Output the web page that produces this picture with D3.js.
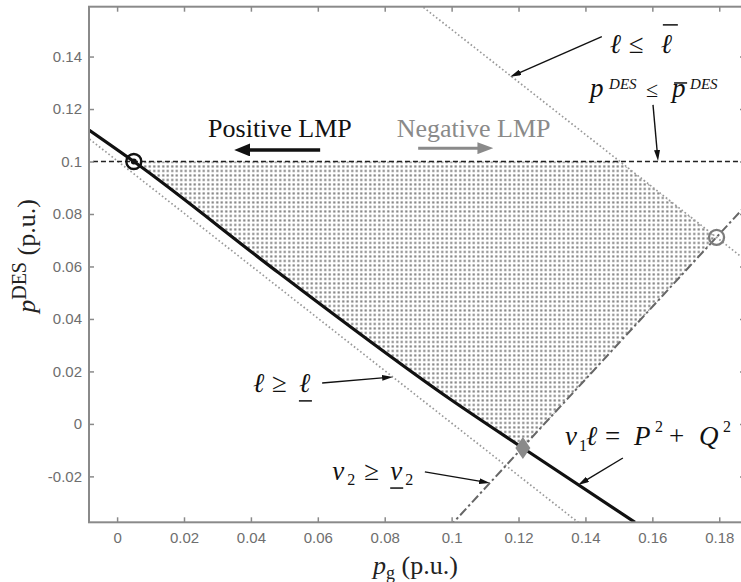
<!DOCTYPE html>
<html>
<head>
<meta charset="utf-8">
<script src="https://cdn.jsdelivr.net/npm/d3@7"></script>
<style>
  html, body { margin: 0; padding: 0; background: #fff; }
  svg { display: block; }
</style>
</head>
<body>
<div id="chart"></div>
<script>
// Feasible operating region of the DES in the (p_g, p^DES) plane

// axis ticks
const xTicks = [0, 0.02, 0.04, 0.06, 0.08, 0.1, 0.12, 0.14, 0.16, 0.18];
const xTickLabels = ["0", "0.02", "0.04", "0.06", "0.08", "0.1", "0.12", "0.14", "0.16", "0.18"];
const yTicks = [-0.02, 0, 0.02, 0.04, 0.06, 0.08, 0.1, 0.12, 0.14];
const yTickLabels = ["-0.02", "0", "0.02", "0.04", "0.06", "0.08", "0.1", "0.12", "0.14"];

// v1·l = P² + Q² (power-flow boundary)
const flowX = [-0.0084, 0.005, 0.0484, 0.0995, 0.1213, 0.1548];
const flowY = [0.1120, 0.1, 0.0575, 0.0095, -0.0092, -0.0375];
// l <= l_max
const lMaxX = [0.085, 0.19];
const lMaxY = [0.1653, 0.0603];
// l >= l_min
const lMinX = [-0.012, 0.14];
const lMinY = [0.1123, -0.0397];
// p^DES <= p^DES_max
const pMaxX = [-0.012, 0.19];
const pMaxY = [0.1, 0.1];
// v2 >= v2_min
const v2X = [0.099, 0.19];
const v2Y = [-0.0397, 0.0861];
// feasible region corners (lower-left side follows the power-flow boundary)
const regionX = [0.005, 0.1503, 0.1792, 0.1213];
const regionY = [0.1, 0.1, 0.0711, -0.0092];
// vertex markers
const posVertex = [0.005, 0.1];
const negVertex = [0.1792, 0.0711];
const flowVertex = [0.1213, -0.0092];

const W = 741, H = 582;
const margin = { top: 6.7, right: -4, bottom: 59.7, left: 89 };
const iw = W - margin.left - margin.right;
const ih = H - margin.top - margin.bottom;

const x = d3.scaleLinear().domain([-0.0084, 0.1877]).range([0, iw]);
const y = d3.scaleLinear().domain([-0.0375, 0.159]).range([ih, 0]);

const svg = d3.select("#chart").append("svg")
  .attr("width", W).attr("height", H);
const defs = svg.append("defs");

defs.append("clipPath").attr("id", "plot-clip")
  .append("rect").attr("width", iw).attr("height", ih);

const pts = (xs, ys) => xs.map((v, i) => [v, ys[i]]);
const line = d3.line().x(d => x(d[0])).y(d => y(d[1]));
const curveLine = d3.line().x(d => x(d[0])).y(d => y(d[1])).curve(d3.curveMonotoneX);

// everything on the upper-right side of the power-flow boundary
const flowPath = curveLine(pts(flowX, flowY));
defs.append("clipPath").attr("id", "above-flow")
  .append("path")
  .attr("d", flowPath +
    `L${iw + 60},${y(flowY[flowY.length - 1])}L${iw + 60},-60L-60,-60L-60,${y(flowY[0])}Z`);

const pat = defs.append("pattern").attr("id", "dots")
  .attr("patternUnits", "userSpaceOnUse")
  .attr("width", 4.5).attr("height", 4.5);
pat.append("rect").attr("x", 1.2).attr("y", 1.2)
  .attr("width", 2.1).attr("height", 2.1).attr("fill", "#7c7c7c");

function arrowMarker(id, color, len, wid) {
  defs.append("marker").attr("id", id)
    .attr("viewBox", `0 0 ${len} ${wid}`)
    .attr("refX", len).attr("refY", wid / 2)
    .attr("markerWidth", len).attr("markerHeight", wid)
    .attr("markerUnits", "userSpaceOnUse")
    .attr("orient", "auto")
    .append("path").attr("d", `M0,0L${len},${wid / 2}L0,${wid}Z`).attr("fill", color);
}
arrowMarker("head-big-black", "#111", 16, 13);
arrowMarker("head-big-gray", "#8a8a8a", 16, 12);
arrowMarker("head-small", "#111", 11, 6);

const g = svg.append("g").attr("transform", `translate(${margin.left},${margin.top})`);
const plot = g.append("g").attr("clip-path", "url(#plot-clip)");

// feasible region (dot fill)
const regionPts = pts(regionX, regionY).concat([[regionX[0], regionY[3]]]);
plot.append("g").attr("clip-path", "url(#above-flow)")
  .append("path")
  .attr("d", line(regionPts) + "Z")
  .attr("fill", "url(#dots)");

// constraint lines
plot.append("path").attr("d", line(pts(lMinX, lMinY)))
  .attr("fill", "none").attr("stroke", "#999").attr("stroke-width", 1.7)
  .attr("stroke-dasharray", "1.6,2.4");
plot.append("path").attr("d", line(pts(lMaxX, lMaxY)))
  .attr("fill", "none").attr("stroke", "#999").attr("stroke-width", 1.7)
  .attr("stroke-dasharray", "1.6,2.4");
plot.append("path").attr("d", line(pts(pMaxX, pMaxY)))
  .attr("fill", "none").attr("stroke", "#222").attr("stroke-width", 1.4)
  .attr("stroke-dasharray", "5,3");
plot.append("path").attr("d", line(pts(v2X, v2Y)))
  .attr("fill", "none").attr("stroke", "#666").attr("stroke-width", 2)
  .attr("stroke-dasharray", "9,3,2.5,3");
plot.append("path").attr("d", flowPath)
  .attr("fill", "none").attr("stroke", "#111").attr("stroke-width", 3.2);

// vertex markers
plot.append("circle").attr("cx", x(posVertex[0])).attr("cy", y(posVertex[1])).attr("r", 7.5)
  .attr("fill", "none").attr("stroke", "#111").attr("stroke-width", 2.4);
plot.append("circle").attr("cx", x(posVertex[0])).attr("cy", y(posVertex[1])).attr("r", 3)
  .attr("fill", "#111");
plot.append("circle").attr("cx", x(negVertex[0])).attr("cy", y(negVertex[1])).attr("r", 7.5)
  .attr("fill", "none").attr("stroke", "#7d7d7d").attr("stroke-width", 2.3);
plot.append("path")
  .attr("transform", `translate(${x(flowVertex[0])},${y(flowVertex[1])})`)
  .attr("d", "M0,-11L7.5,0L0,11L-7.5,0Z")
  .attr("fill", "#8a8a8a");

// axes (box with inward ticks)
const axisColor = "#8a8a8a";
function styleAxis(sel, labels) {
  sel.select(".domain").remove();
  sel.selectAll(".tick line").attr("stroke", axisColor).attr("stroke-width", 1.5);
  sel.selectAll(".tick text")
    .attr("fill", labels ? "#6e6e6e" : "none")
    .attr("font-family", "'Liberation Sans', Arial, sans-serif")
    .attr("font-size", 15);
}
g.append("g").attr("transform", `translate(0,${ih})`)
  .call(d3.axisBottom(x).tickValues(xTicks).tickFormat((d, i) => xTickLabels[i])
    .tickSizeInner(-5).tickSizeOuter(0).tickPadding(10))
  .call(s => styleAxis(s, true));
g.append("g")
  .call(d3.axisTop(x).tickValues(xTicks).tickFormat("")
    .tickSizeInner(-5).tickSizeOuter(0))
  .call(s => styleAxis(s, false));
g.append("g")
  .call(d3.axisLeft(y).tickValues(yTicks).tickFormat((d, i) => yTickLabels[i])
    .tickSizeInner(-5).tickSizeOuter(0).tickPadding(7))
  .call(s => styleAxis(s, true));
g.append("g").attr("transform", `translate(${iw},0)`)
  .call(d3.axisRight(y).tickValues(yTicks).tickFormat("")
    .tickSizeInner(-5).tickSizeOuter(0))
  .call(s => styleAxis(s, false));
g.append("rect").attr("width", iw).attr("height", ih)
  .attr("fill", "none").attr("stroke", axisColor).attr("stroke-width", 2);

const serif = "'Liberation Serif', 'Times New Roman', serif";

// axis titles
svg.append("text")
  .attr("x", 373).attr("y", 574)
  .attr("font-family", serif).attr("font-size", 26).attr("fill", "#222")
  .call(t => {
    t.append("tspan").attr("font-style", "italic").text("p");
    t.append("tspan").attr("font-size", 18).attr("dy", 5).text("g");
    t.append("tspan").attr("dy", -5).text(" (p.u.)");
  });
svg.append("text")
  .attr("transform", "translate(35,256) rotate(-90)")
  .attr("text-anchor", "middle")
  .attr("font-family", serif).attr("font-size", 26).attr("fill", "#222")
  .call(t => {
    t.append("tspan").attr("font-style", "italic").text("p");
    t.append("tspan").attr("font-size", 20).attr("dy", -9).text("DES");
    t.append("tspan").attr("dy", 9).text(" (p.u.)");
  });

// LMP direction labels
const lmp = [
  { t: "Positive LMP", x: 0.0272, y: 0.1095, color: "#111", from: [0.0607, 0.1044], to: [0.0350, 0.1044], head: "head-big-black", w: 3.5 },
  { t: "Negative LMP", x: 0.0836, y: 0.1095, color: "#8a8a8a", from: [0.0900, 0.1051], to: [0.1125, 0.1051], head: "head-big-gray", w: 3 }
];

function arrow(parent, from, to, head, color, w, back) {
  const x1 = x(from[0]), y1 = y(from[1]), x2 = x(to[0]), y2 = y(to[1]);
  const L = Math.hypot(x2 - x1, y2 - y1);
  const ex = x2 - (x2 - x1) / L * back, ey = y2 - (y2 - y1) / L * back;
  parent.append("line").attr("x1", x1).attr("y1", y1).attr("x2", x2).attr("y2", y2)
    .attr("stroke", "none").attr("marker-end", `url(#${head})`);
  parent.append("line").attr("x1", x1).attr("y1", y1).attr("x2", ex).attr("y2", ey)
    .attr("stroke", color).attr("stroke-width", w);
}

lmp.forEach(d => {
  g.append("text").attr("x", x(d.x)).attr("y", y(d.y))
    .attr("font-family", serif).attr("font-size", 26).attr("fill", d.color).text(d.t);
  arrow(g, d.from, d.to, d.head, d.color, d.w, 10);
});

// constraint annotations: anchor in data units, glyph offsets in px
const notes = [
  { x: 0.1473, y: 0.1414, from: [0.1449, 0.1476], to: [0.1175, 0.1323],
    parts: [{ t: "ℓ", dx: 0, it: true }, { t: "≤", dx: 19 }, { t: "ℓ", dx: 51, it: true }],
    bars: [[53, 68, -28]] },
  { x: 0.1414, y: 0.1246, from: [0.1602, 0.1216], to: [0.1617, 0.1002],
    parts: [{ t: "p", dx: 0, it: true }, { t: "DES", dx: 19, dy: -8, s: 15, it: true },
            { t: "≤", dx: 56, s: 22 }, { t: "p", dx: 82, it: true },
            { t: "DES", dx: 100, dy: -8, s: 15, it: true }],
    bars: [[84, 97, -14]] },
  { x: 0.0406, y: 0.0122, from: [0.0613, 0.0156], to: [0.0825, 0.0179],
    parts: [{ t: "ℓ", dx: 0, it: true }, { t: "≥", dx: 19 }, { t: "ℓ", dx: 46, it: true }],
    bars: [[46, 59, 9]] },
  { x: 0.0643, y: -0.0214, from: [0.0920, -0.0183], to: [0.1115, -0.0225],
    parts: [{ t: "v", dx: 0, it: true }, { t: "2", dx: 15, dy: 5, s: 16 },
            { t: "≥", dx: 32 }, { t: "v", dx: 58, it: true }, { t: "2", dx: 73, dy: 5, s: 16 }],
    bars: [[58, 71, 8]] },
  { x: 0.1339, y: -0.0080, from: [0.1512, -0.0130], to: [0.1378, -0.0233],
    parts: [{ t: "v", dx: 0, it: true }, { t: "1", dx: 14, dy: 6, s: 16 },
            { t: "ℓ", dx: 21, it: true }, { t: "=", dx: 40 },
            { t: "P", dx: 69, it: true }, { t: "2", dx: 90, dy: -13, s: 16 },
            { t: "+", dx: 104 }, { t: "Q", dx: 134, it: true },
            { t: "2", dx: 158, dy: -13, s: 16 }],
    bars: [] }
];

notes.forEach(n => {
  const ax = x(n.x), ay = y(n.y);
  const ng = g.append("g");
  n.parts.forEach(p => {
    ng.append("text")
      .attr("x", ax + p.dx).attr("y", ay + (p.dy || 0))
      .attr("font-family", serif).attr("font-size", p.s || 27)
      .attr("font-style", p.it ? "italic" : "normal")
      .attr("fill", "#111").text(p.t);
  });
  n.bars.forEach(b => {
    ng.append("line")
      .attr("x1", ax + b[0]).attr("x2", ax + b[1])
      .attr("y1", ay + b[2]).attr("y2", ay + b[2])
      .attr("stroke", "#111").attr("stroke-width", 1.5);
  });
  arrow(ng, n.from, n.to, "head-small", "#111", 1.4, 8);
});
</script>
</body>
</html>
